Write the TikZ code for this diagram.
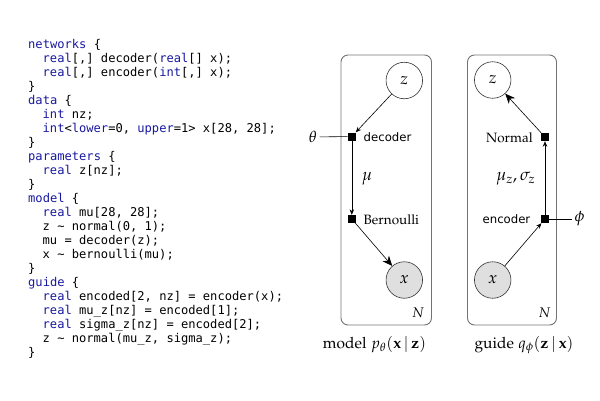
\documentclass[tikz,border=0pt]{standalone}
\usepackage{fontspec}
\newfontfamily\codefont{DejaVu Sans Mono}
\newfontfamily\sanslab{DejaVu Sans}
\usepackage{mathpazo}
\usetikzlibrary{arrows.meta}
\newcommand\pal{\fontencoding{T1}\fontfamily{pplx}\selectfont}
\definecolor{kwblue}{RGB}{24,24,160}
\newcommand\kw[1]{\textcolor{kwblue}{#1}}
\newcommand\ind{\hspace*{14.5pt}}
\tikzset{
  codeline/.style={anchor=base west, inner sep=0pt, font=\codefont\fontsize{12.1}{14}\selectfont},
  rv/.style={circle, draw=black!80, line width=0.6pt, minimum size=36.5pt, inner sep=0pt, font=\fontsize{16.5}{18}\selectfont},
  obs/.style={rv, fill=gray!25},
  fac/.style={rectangle, fill=black, minimum size=8pt, inner sep=0pt},
  platebox/.style={draw=black!55, line width=0.9pt, rounded corners=7pt},
  sarr/.style={-{Stealth[length=5.5pt,width=4.5pt]}, line width=0.6pt},
  barr/.style={-{Stealth[length=10pt,width=8.5pt]}, line width=0.6pt},
  plainline/.style={line width=0.6pt},
  slab/.style={inner sep=0pt, font=\sanslab\fontsize{11.7}{14}\selectfont},
  plab/.style={inner sep=0pt, font=\pal\fontsize{13.5}{16}\selectfont},
  mlab/.style={inner sep=0pt, font=\fontsize{17}{19}\selectfont},
  nlab/.style={inner sep=0pt, font=\fontsize{14}{16}\selectfont},
  paramlab/.style={inner sep=2.5pt, font=\fontsize{16}{18}\selectfont},
  captext/.style={inner sep=0pt, font=\pal\fontsize{15.5}{18}\selectfont},
}
\begin{document}
\begin{tikzpicture}[x=1pt,y=-1pt]
\useasboundingbox (0,0) rectangle (600,400);
% code
\node[codeline] (c0)  at (28,48.5)  {\kw{networks} \{};
\node[codeline] (c1)  at (28,62.5)  {\ind\kw{real}[,] decoder(\kw{real}[] x);};
\node[codeline] (c2)  at (28,76.5)  {\ind\kw{real}[,] encoder(\kw{int}[,] x);};
\node[codeline] (c3)  at (28,90.5)  {\}};
\node[codeline] (c4)  at (28,104.5) {\kw{data} \{};
\node[codeline] (c5)  at (28,118.5) {\ind\kw{int} nz;};
\node[codeline] (c6)  at (28,132.5) {\ind\kw{int}<\kw{lower}=0, \kw{upper}=1> x[28, 28];};
\node[codeline] (c7)  at (28,146.5) {\}};
\node[codeline] (c8)  at (28,160.5) {\kw{parameters} \{};
\node[codeline] (c9)  at (28,174.5) {\ind\kw{real} z[nz];};
\node[codeline] (c10) at (28,188.5) {\}};
\node[codeline] (c11) at (28,202.5) {\kw{model} \{};
\node[codeline] (c12) at (28,216.5) {\ind\kw{real} mu[28, 28];};
\node[codeline] (c13) at (28,230.5) {\ind z \textasciitilde{} normal(0, 1);};
\node[codeline] (c14) at (28,244.5) {\ind mu = decoder(z);};
\node[codeline] (c15) at (28,258.5) {\ind x \textasciitilde{} bernoulli(mu);};
\node[codeline] (c16) at (28,272.5) {\}};
\node[codeline] (c17) at (28,286.5) {\kw{guide} \{};
\node[codeline] (c18) at (28,300.5) {\ind\kw{real} encoded[2, nz] = encoder(x);};
\node[codeline] (c19) at (28,314.5) {\ind\kw{real} mu\_z[nz] = encoded[1];};
\node[codeline] (c20) at (28,328.5) {\ind\kw{real} sigma\_z[nz] = encoded[2];};
\node[codeline] (c21) at (28,342.5) {\ind z \textasciitilde{} normal(mu\_z, sigma\_z);};
\node[codeline] (c22) at (28,356.5) {\}};
% model plate
\draw[platebox] (341,55) rectangle (431.5,325);
\node[rv] (mz) at (404.3,80.5) {$z$};
\node[fac] (dec) at (351.8,136.5) {};
\node[fac] (ber) at (351.8,219) {};
\node[obs] (mx) at (404.3,280) {$x$};
\node[paramlab] (theta) at (313,137) {$\theta$};
\node[slab, anchor=west] (declab) at (363.5,137) {decoder};
\node[plab, anchor=west] (berlab) at (363.5,219.5) {Bernoulli};
\node[mlab] (mulab) at (367,179) {$\mu$};
\node[nlab] (mN) at (418,313) {$N$};
\draw[sarr] (mz) -- (dec);
\draw[plainline] (theta) -- (dec);
\draw[sarr] (dec) -- (ber);
\draw[barr] (ber) -- (mx);
\node[captext] (mcap) at (374.5,345) {model $p_\theta(\mathbf{x}\,|\,\mathbf{z})$};
% guide plate
\draw[platebox] (467.5,55) rectangle (556.5,325);
\node[rv] (gz) at (492.7,80) {$z$};
\node[fac] (norm) at (545,137) {};
\node[fac] (enc) at (545,219) {};
\node[obs] (gx) at (492.7,280) {$x$};
\node[paramlab] (phi) at (579.5,219) {$\phi$};
\node[plab, anchor=east] (normlab) at (533,137.5) {Normal};
\node[slab, anchor=east] (enclab) at (530.5,219) {encoder};
\node[mlab] (musig) at (515.7,179) {$\mu_z,\sigma_z$};
\node[nlab] (gN) at (544.5,313) {$N$};
\draw[sarr] (gx) -- (enc);
\draw[sarr] (enc) -- (norm);
\draw[barr] (norm) -- (gz);
\draw[plainline] (enc) -- (phi);
\node[captext] (gcap) at (524,345) {guide $q_\phi(\mathbf{z}\,|\,\mathbf{x})$};
\end{tikzpicture}
\end{document}
